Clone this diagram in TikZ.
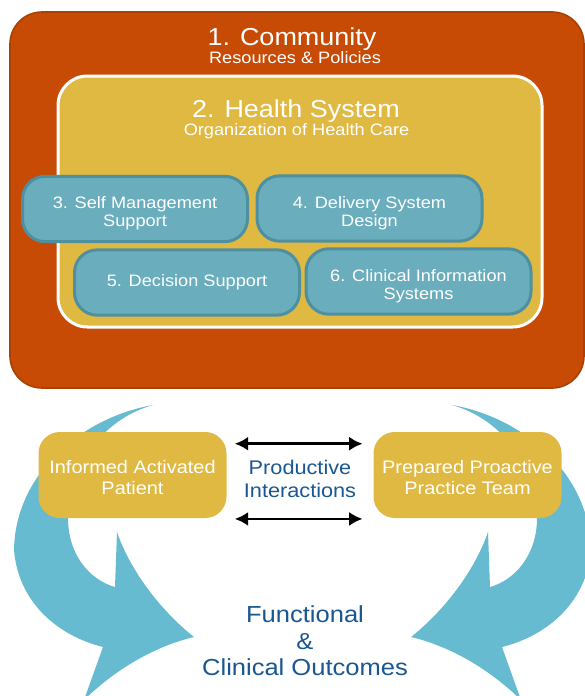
\documentclass[tikz,border=0pt]{standalone}
\usepackage{fontspec}
\setmainfont{Liberation Sans}[FakeStretch=1.1]
\usetikzlibrary{arrows.meta}

\definecolor{communityfill}{HTML}{C74B04}
\definecolor{communityedge}{HTML}{A84104}
\definecolor{healthgold}{HTML}{E0B942}
\definecolor{modfill}{HTML}{6AADBD}
\definecolor{modedge}{HTML}{4E8FA0}
\definecolor{sweepblue}{HTML}{67BBD0}
\definecolor{navytext}{HTML}{1A5790}

% extra room above the first line of a box text
\newcommand{\topgap}[1]{\rule{0pt}{#1}}

% one of the two big curved arrows (the right one is its mirror image)
\newcommand{\sweeparrow}{%
  (153,405) .. controls (80,418) and (15,475) .. (14,550)
  .. controls (18,600) and (55,635) .. (103,647)
  -- (84,700)
  .. controls (120,665) and (160,645) .. (194,637)
  .. controls (160,610) and (130,570) .. (117,532)
  -- (115,587)
  .. controls (90,580) and (68,555) .. (68,518)
  .. controls (68,470) and (100,420) .. (153,405) -- cycle}

\begin{document}
\begin{tikzpicture}[x=0.75pt, y=-0.75pt,
  title/.style={text=white, anchor=base, font=\fontsize{18.4pt}{18pt}\selectfont},
  subtitle/.style={text=white, anchor=base, font=\fontsize{12.4pt}{12pt}\selectfont},
  module/.style={draw=modedge, line width=2.25pt, fill=modfill, rounded corners=17pt,
    minimum width=168.75pt, minimum height=49pt, align=center, text=white,
    font=\fontsize{12.4pt}{13.5pt}\selectfont},
  partner/.style={fill=healthgold, rounded corners=16pt, minimum width=141pt,
    minimum height=64.5pt, align=center, text=white,
    font=\fontsize{13.6pt}{15.75pt}\selectfont},
  outcome/.style={text=navytext, align=center},
  talk/.style={line width=2pt, {Latex[length=10pt,width=10.5pt]}-{Latex[length=10pt,width=10.5pt]}},
  sweep/.style={fill=sweepblue}]
\useasboundingbox (0,0) rectangle (585,696);
\clip (0,0) rectangle (585,696);

% Community and health system frames
\draw[communityedge, fill=communityfill, line width=1.2pt, rounded corners=24pt]
  (10,12) rectangle (584,388);
\draw[white, fill=healthgold, line width=2.25pt, rounded corners=22pt]
  (58,76) rectangle (542,327);

\node[title] (comm) at (292,45) {1. Community};
\node[subtitle] (commsub) at (295,63) {Resources \& Policies};
\node[title] (hs) at (296,117) {2. Health System};
\node[subtitle] (hssub) at (296.5,135) {Organization of Health Care};

% The four system elements
\node[module] (selfmgmt) at (135,209) {\topgap{16pt}3. Self Management\\Support};
\node[module] (delivery) at (369.5,208.5) {\topgap{16pt}4. Delivery System\\Design};
\node[module] (decision) at (187,282.5) {5. Decision Support};
\node[module] (clinfo) at (418.5,281.5) {\topgap{16pt}6. Clinical Information\\Systems};

% Curved arrows to the outcomes
\fill[sweep] \sweeparrow;
\begin{scope}[shift={(605,0)}, xscale=-1]
  \fill[sweep] \sweeparrow;
\end{scope}

% Patient and team
\node[partner] (patient) at (132.5,475) {\topgap{14pt}Informed Activated\\Patient};
\node[partner] (team) at (467.5,475) {\topgap{14pt}Prepared Proactive\\Practice Team};

\draw[talk] ([shift={(6pt,-9pt)}]patient.north east) -- ([shift={(-8pt,-9pt)}]team.north west);
\draw[talk] ([shift={(6pt,-0.5pt)}]patient.south east) -- ([shift={(-8pt,-0.5pt)}]team.south west);

\node[outcome, font=\fontsize{14.8pt}{17pt}\selectfont] (interact) at (300,479)
  {Productive\\Interactions};
\node[outcome, font=\fontsize{17.4pt}{20pt}\selectfont] (result) at (305,641)
  {Functional\\\&\\Clinical Outcomes};
\end{tikzpicture}
\end{document}
